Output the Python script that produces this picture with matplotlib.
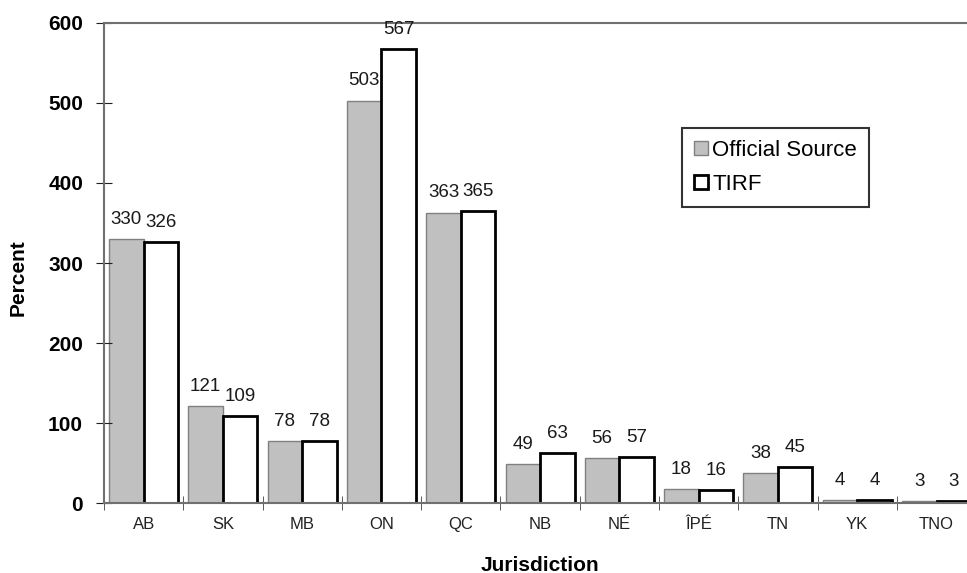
import numpy as np
import matplotlib
matplotlib.use('Agg')
import matplotlib.pyplot as plt

plt.rcParams['font.family'] = ['Liberation Sans', 'DejaVu Sans']

jurisdictions = ['AB', 'SK', 'MB', 'ON', 'QC', 'NB', 'NÉ', 'ÎPÉ', 'TN', 'YK', 'TNO']
official = [330, 121, 78, 503, 363, 49, 56, 18, 38, 4, 3]
tirf = [326, 109, 78, 567, 365, 63, 57, 16, 45, 4, 3]

fig = plt.figure(figsize=(9.67, 5.73), dpi=100)
ax = fig.add_axes([0.1075, 0.122, 0.902, 0.838])

x = np.arange(len(jurisdictions))
w = 0.435
b1 = ax.bar(x - w / 2, official, w, color='#c0c0c0', edgecolor='#808080',
            linewidth=1.0, label='Official Source')
b2 = ax.bar(x + w / 2, tirf, w, color='white', edgecolor='black',
            linewidth=2.0, label='TIRF')

for bars, vals in ((b1, official), (b2, tirf)):
    for r, v in zip(bars, vals):
        ax.annotate(str(v), (r.get_x() + r.get_width() / 2, v),
                    xytext=(0, 8), textcoords='offset points',
                    ha='center', va='bottom', fontsize=13.5, color='#1a1a1a')

ax.set_xlim(-0.5, 10.38)
ax.set_ylim(0, 600)
ax.set_yticks(range(0, 601, 100))
ax.set_yticklabels([str(v) for v in range(0, 601, 100)],
                   fontsize=15, fontweight='bold')
ax.set_xticks(x)
ax.set_xticklabels(jurisdictions, fontsize=12, color='#222222')
ax.set_xticks(np.arange(-0.5, 11, 1), minor=True)
ax.tick_params(axis='x', which='major', length=0, pad=10)
ax.tick_params(axis='x', which='minor', length=10, direction='inout',
               color='#404040')
ax.tick_params(axis='y', length=12, direction='inout', color='#202020', pad=9)

for s in ('left', 'bottom', 'top'):
    ax.spines[s].set_color('#707070')
    ax.spines[s].set_linewidth(1.5)
ax.spines['right'].set_visible(False)

ax.set_ylabel('Percent', fontsize=15, fontweight='bold')
ax.yaxis.set_label_coords(-0.087, 0.47)
ax.set_xlabel('Jurisdiction', fontsize=15, fontweight='bold', labelpad=17)

leg = ax.legend(loc='upper left', bbox_to_anchor=(0.663, 0.782),
                fontsize=16, frameon=True, fancybox=False, handlelength=0.6,
                handleheight=0.6, handletextpad=0.2, borderpad=0.55,
                labelspacing=0.6, borderaxespad=0)
leg.get_frame().set_edgecolor('black')
leg.get_frame().set_linewidth(1.5)

fig.savefig('out.png', dpi=100)
